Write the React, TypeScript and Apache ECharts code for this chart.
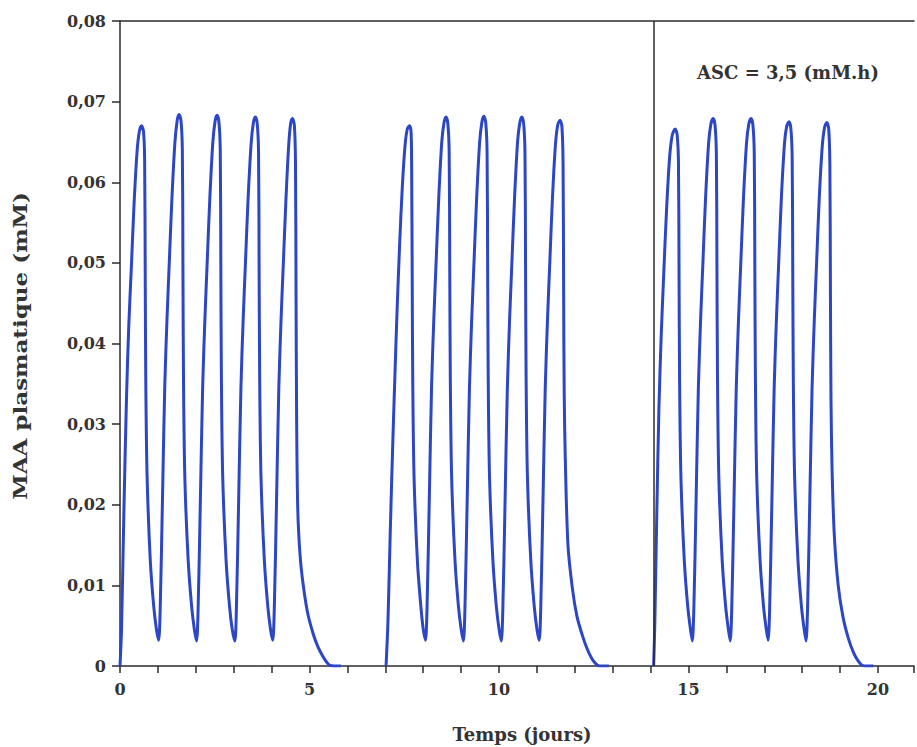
import React, { useEffect, useRef } from 'react';
import * as echarts from 'echarts';

// Temps (jours) vs MAA plasmatique (mM) — three 5-day courses
const cure1: [number, number][] = [
  [0.00, 0], [0.04, 0.0045], [0.10, 0.0185], [0.17, 0.0330], [0.23, 0.0420], [0.30, 0.0495], [0.37, 0.0572], [0.45, 0.0638], [0.51, 0.0663], [0.57, 0.0670], [0.62, 0.0663], [0.65, 0.0628], [0.665, 0.0490], [0.68, 0.0355], [0.715, 0.0235], [0.80, 0.0130], [0.89, 0.0074], [0.96, 0.0046],
  [1.02, 0.0032], [1.06, 0.0070], [1.12, 0.0205], [1.18, 0.0345], [1.24, 0.0430], [1.30, 0.0500], [1.37, 0.0580], [1.45, 0.0650], [1.51, 0.0677], [1.56, 0.0684], [1.61, 0.0676], [1.645, 0.0640], [1.66, 0.0500], [1.675, 0.0360], [1.71, 0.0235], [1.80, 0.0130], [1.89, 0.0074], [1.96, 0.0046],
  [2.02, 0.0031], [2.06, 0.0069], [2.12, 0.0204], [2.18, 0.0344], [2.24, 0.0430], [2.30, 0.0500], [2.37, 0.0580], [2.45, 0.0650], [2.51, 0.0676], [2.56, 0.0683], [2.61, 0.0675], [2.645, 0.0640], [2.66, 0.0500], [2.675, 0.0360], [2.71, 0.0235], [2.80, 0.0130], [2.89, 0.0074], [2.96, 0.0046],
  [3.03, 0.0031], [3.07, 0.0069], [3.13, 0.0204], [3.19, 0.0344], [3.25, 0.0430], [3.31, 0.0500], [3.38, 0.0580], [3.46, 0.0648], [3.52, 0.0674], [3.57, 0.0681], [3.62, 0.0673], [3.655, 0.0638], [3.67, 0.0500], [3.685, 0.0360], [3.72, 0.0235], [3.81, 0.0130], [3.90, 0.0074], [3.97, 0.0046],
  [4.03, 0.0032], [4.07, 0.0069], [4.13, 0.0204], [4.19, 0.0344], [4.25, 0.0430], [4.31, 0.0500], [4.38, 0.0580], [4.45, 0.0645], [4.50, 0.0672], [4.55, 0.0679], [4.60, 0.0671], [4.63, 0.0625], [4.645, 0.0460], [4.66, 0.0310], [4.69, 0.0195], [4.75, 0.0138], [4.83, 0.0102], [4.95, 0.0066], [5.09, 0.0041], [5.22, 0.0024], [5.35, 0.0012], [5.45, 0.0005], [5.53, 0.0001], [5.65, 0], [5.83, 0],
];

const cure2: [number, number][] = [
  [7.02, 0], [7.07, 0.0055], [7.13, 0.0165], [7.19, 0.0265], [7.25, 0.0355], [7.31, 0.0440], [7.38, 0.0525], [7.45, 0.0595], [7.52, 0.0645], [7.58, 0.0666], [7.64, 0.0670], [7.68, 0.0662], [7.695, 0.0620], [7.71, 0.0480], [7.725, 0.0350], [7.76, 0.0232], [7.85, 0.0128], [7.94, 0.0073], [8.00, 0.0046],
  [8.06, 0.0032], [8.10, 0.0070], [8.16, 0.0205], [8.22, 0.0345], [8.28, 0.0430], [8.34, 0.0500], [8.41, 0.0580], [8.49, 0.0650], [8.55, 0.0674], [8.60, 0.0681], [8.65, 0.0673], [8.685, 0.0638], [8.70, 0.0500], [8.715, 0.0360], [8.75, 0.0235], [8.84, 0.0130], [8.93, 0.0074], [9.00, 0.0046],
  [9.06, 0.0031], [9.10, 0.0069], [9.16, 0.0204], [9.22, 0.0344], [9.28, 0.0430], [9.34, 0.0500], [9.41, 0.0580], [9.49, 0.0650], [9.55, 0.0675], [9.60, 0.0682], [9.65, 0.0674], [9.685, 0.0638], [9.70, 0.0500], [9.715, 0.0360], [9.75, 0.0235], [9.84, 0.0130], [9.93, 0.0074], [10.00, 0.0046],
  [10.06, 0.0031], [10.10, 0.0069], [10.16, 0.0204], [10.22, 0.0344], [10.28, 0.0430], [10.34, 0.0500], [10.41, 0.0580], [10.49, 0.0650], [10.55, 0.0674], [10.60, 0.0681], [10.65, 0.0673], [10.685, 0.0638], [10.70, 0.0500], [10.715, 0.0360], [10.75, 0.0235], [10.84, 0.0130], [10.93, 0.0074], [11.00, 0.0046],
  [11.06, 0.0032], [11.10, 0.0069], [11.16, 0.0204], [11.22, 0.0344], [11.28, 0.0430], [11.34, 0.0500], [11.41, 0.0580], [11.49, 0.0647], [11.55, 0.0671], [11.61, 0.0677], [11.66, 0.0669], [11.69, 0.0625], [11.705, 0.0470], [11.72, 0.0340], [11.75, 0.0255], [11.82, 0.0150], [11.94, 0.0095], [12.06, 0.0061], [12.20, 0.0038], [12.32, 0.0022], [12.44, 0.0010], [12.55, 0.0003], [12.65, 0], [12.90, 0],
];

const cure3: [number, number][] = [
  [14.08, 0], [14.11, 0.0050], [14.16, 0.0180], [14.22, 0.0320], [14.28, 0.0410], [14.35, 0.0490], [14.42, 0.0565], [14.50, 0.0630], [14.57, 0.0658], [14.65, 0.0666], [14.70, 0.0659], [14.735, 0.0625], [14.75, 0.0490], [14.765, 0.0355], [14.80, 0.0235], [14.89, 0.0130], [14.98, 0.0074], [15.05, 0.0046],
  [15.10, 0.0031], [15.14, 0.0069], [15.20, 0.0204], [15.26, 0.0344], [15.32, 0.0430], [15.38, 0.0500], [15.45, 0.0580], [15.53, 0.0648], [15.59, 0.0672], [15.65, 0.0679], [15.70, 0.0671], [15.735, 0.0636], [15.75, 0.0500], [15.765, 0.0360], [15.80, 0.0235], [15.89, 0.0130], [15.98, 0.0074], [16.05, 0.0046],
  [16.10, 0.0031], [16.14, 0.0069], [16.20, 0.0204], [16.26, 0.0344], [16.32, 0.0430], [16.38, 0.0500], [16.45, 0.0580], [16.53, 0.0648], [16.59, 0.0672], [16.65, 0.0679], [16.70, 0.0671], [16.735, 0.0636], [16.75, 0.0500], [16.765, 0.0360], [16.80, 0.0235], [16.89, 0.0130], [16.98, 0.0074], [17.05, 0.0046],
  [17.10, 0.0032], [17.14, 0.0069], [17.20, 0.0204], [17.26, 0.0344], [17.32, 0.0430], [17.38, 0.0500], [17.45, 0.0580], [17.53, 0.0646], [17.59, 0.0669], [17.65, 0.0675], [17.70, 0.0667], [17.735, 0.0632], [17.75, 0.0500], [17.765, 0.0360], [17.80, 0.0235], [17.89, 0.0130], [17.98, 0.0074], [18.05, 0.0046],
  [18.10, 0.0031], [18.14, 0.0069], [18.20, 0.0204], [18.26, 0.0344], [18.32, 0.0430], [18.38, 0.0500], [18.45, 0.0580], [18.53, 0.0645], [18.59, 0.0668], [18.65, 0.0674], [18.70, 0.0666], [18.73, 0.0622], [18.745, 0.0465], [18.76, 0.0330], [18.79, 0.0240], [18.85, 0.0160], [18.95, 0.0100], [19.08, 0.0060], [19.22, 0.0034], [19.36, 0.0016], [19.48, 0.0006], [19.58, 0.0001], [19.70, 0], [19.88, 0],
];

const xLabelValues = [0, 5, 10, 15, 20];
const yTickLabels = ['0', '0,01', '0,02', '0,03', '0,04', '0,05', '0,06', '0,07', '0,08'];
const xAxisTitle = 'Temps (jours)';
const yAxisTitle = 'MAA plasmatique (mM)';
const ascLabel = 'ASC = 3,5 (mM.h)';
const cureSeparator = 14.08;

const FONT = '"DejaVu Serif", "Liberation Serif", serif';
const INK = '#2b2b2b';
const BLUE = '#2c46c6';

export default function App() {
  const ref = useRef<HTMLDivElement>(null);

  useEffect(() => {
    if (!ref.current) return;
    const chart = echarts.init(ref.current, undefined, { renderer: 'svg' });

    const lineSeries = (data: [number, number][], extra: any = {}) => ({
      type: 'line',
      data,
      symbol: 'none',
      showSymbol: false,
      smooth: 0.3,
      lineStyle: { color: BLUE, width: 3 },
      silent: true,
      ...extra,
    });

    chart.setOption({
      animation: false,
      backgroundColor: '#ffffff',
      grid: { left: 120, right: 0, top: 21, bottom: 81, containLabel: false },
      xAxis: [
        {
          type: 'value',
          min: 0,
          max: 20.95,
          interval: 1,
          axisLine: { show: true, onZero: false, lineStyle: { color: INK, width: 1.5 } },
          axisTick: { show: true, length: 7, lineStyle: { color: INK, width: 1.5 } },
          axisLabel: {
            margin: 15,
            fontFamily: FONT,
            fontWeight: 'bold',
            fontSize: 16,
            color: '#333',
            formatter: (v: number) => (xLabelValues.includes(Math.round(v * 1000) / 1000) ? String(v) : ''),
          },
          splitLine: { show: false },
        },
        {
          type: 'value',
          position: 'top',
          min: 0,
          max: 20.95,
          axisLine: { show: true, onZero: false, lineStyle: { color: INK, width: 1.5 } },
          axisTick: { show: false },
          axisLabel: { show: false },
          splitLine: { show: false },
        },
      ],
      yAxis: {
        type: 'value',
        min: 0,
        max: 0.08,
        interval: 0.01,
        axisLine: { show: true, onZero: false, lineStyle: { color: INK, width: 1.5 } },
        axisTick: { show: true, length: 8, lineStyle: { color: INK, width: 1.5 } },
        axisLabel: {
          margin: 14,
          fontFamily: FONT,
          fontWeight: 'bold',
          fontSize: 16,
          color: '#333',
          formatter: (v: number) => yTickLabels[Math.round(v / 0.01)] ?? '',
        },
        splitLine: { show: false },
      },
      series: [
        lineSeries(cure1),
        lineSeries(cure2),
        lineSeries(cure3, {
          markLine: {
            silent: true,
            symbol: ['none', 'none'],
            label: { show: false },
            lineStyle: { color: INK, width: 1.5, type: 'solid' },
            data: [{ xAxis: cureSeparator }],
          },
        }),
      ],
      graphic: [
        {
          type: 'text',
          x: 21,
          y: 346,
          rotation: Math.PI / 2,
          scaleX: 1.28,
          style: {
            text: yAxisTitle,
            font: `bold 18px ${FONT}`,
            fill: '#333',
            align: 'center',
            verticalAlign: 'middle',
          },
        },
        {
          type: 'text',
          x: 522,
          y: 734,
          style: {
            text: xAxisTitle,
            font: `bold 18px ${FONT}`,
            fill: '#333',
            align: 'center',
            verticalAlign: 'middle',
          },
        },
        {
          type: 'text',
          x: 788,
          y: 72,
          style: {
            text: ascLabel,
            font: `bold 18px ${FONT}`,
            fill: '#333',
            align: 'center',
            verticalAlign: 'middle',
          },
        },
      ],
    });

    return () => chart.dispose();
  }, []);

  return (
    <div
      ref={ref}
      style={{ position: 'absolute', left: 0, top: 0, width: 917, height: 747, background: '#fff' }}
    />
  );
}
